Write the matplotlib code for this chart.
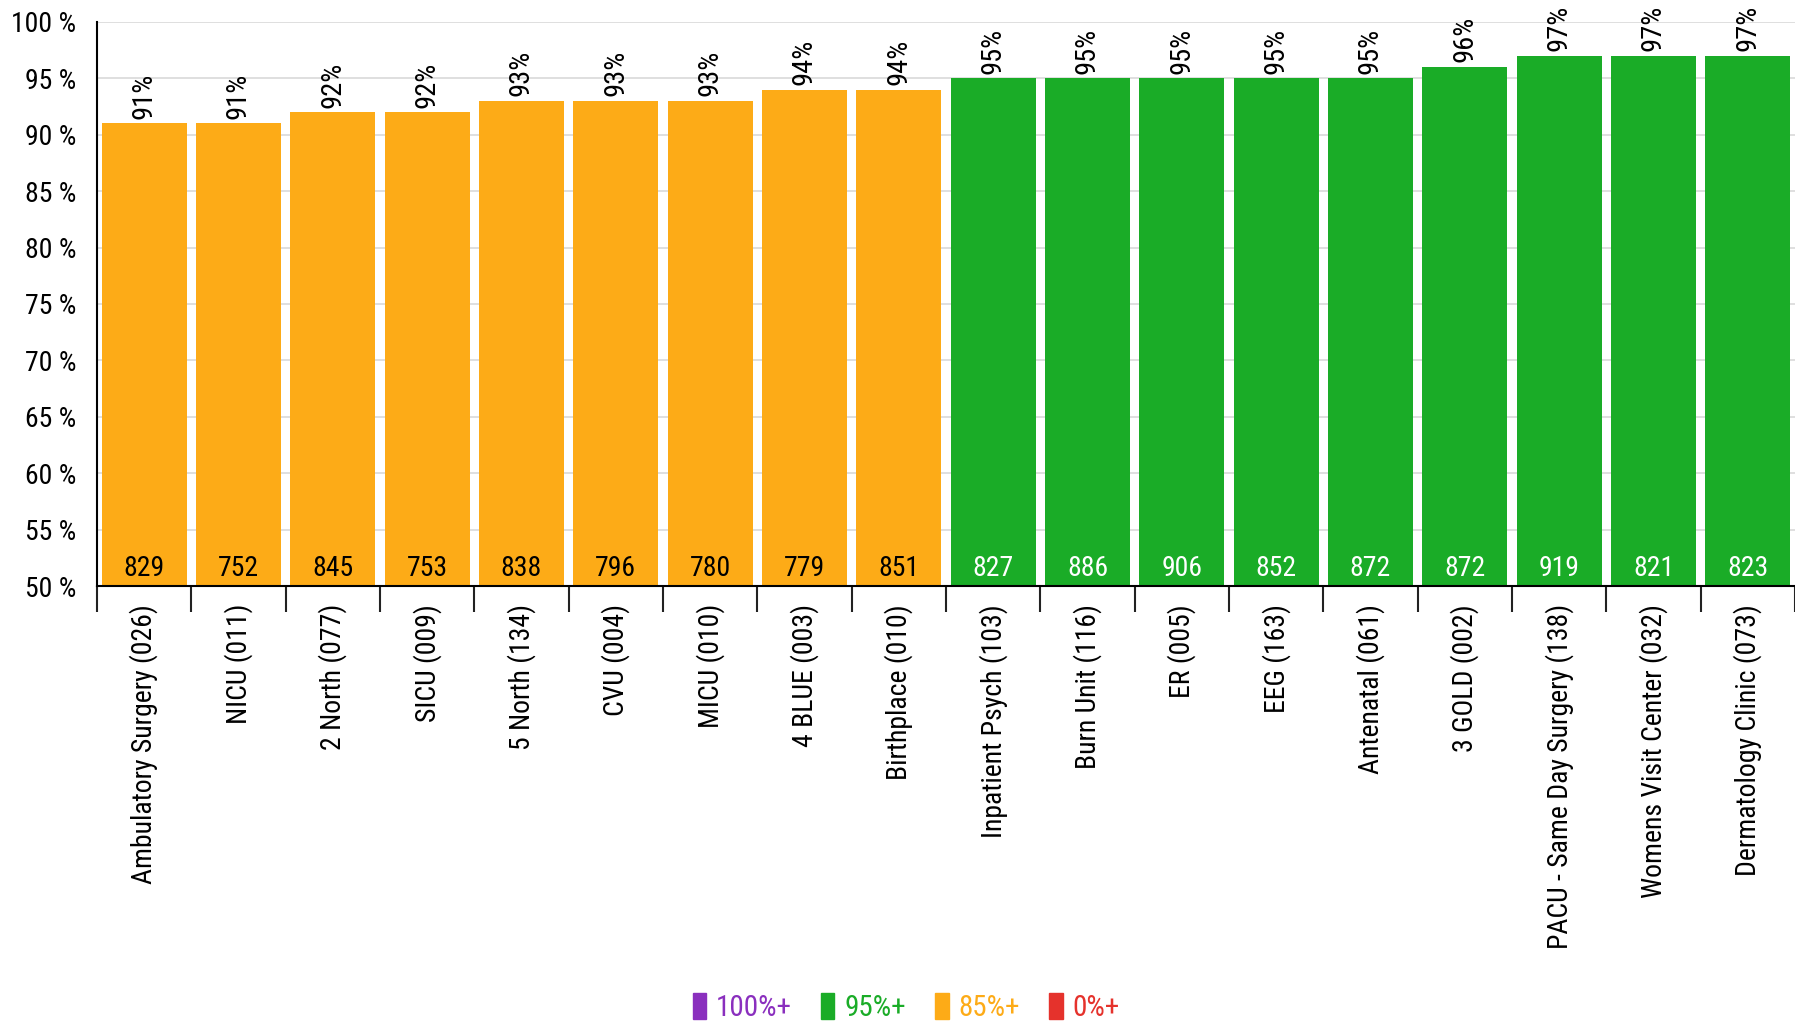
import matplotlib.pyplot as plt
from matplotlib.patches import Patch
import numpy as np

plt.rcParams['font.family'] = ['Roboto Condensed', 'Liberation Sans', 'DejaVu Sans']

units = ["Ambulatory Surgery (026)", "NICU (011)", "2 North (077)", "SICU (009)",
         "5 North (134)", "CVU (004)", "MICU (010)", "4 BLUE (003)", "Birthplace (010)",
         "Inpatient Psych (103)", "Burn Unit (116)", "ER (005)", "EEG (163)",
         "Antenatal (061)", "3 GOLD (002)", "PACU - Same Day Surgery (138)",
         "Womens Visit Center (032)", "Dermatology Clinic (073)"]
pct = [91, 91, 92, 92, 93, 93, 93, 94, 94, 95, 95, 95, 95, 95, 96, 97, 97, 97]
counts = [829, 752, 845, 753, 838, 796, 780, 779, 851, 827, 886, 906, 852, 872, 872, 919, 821, 823]

legend_labels = ["100%+", "95%+", "85%+", "0%+"]
PURPLE, GREEN, ORANGE, RED = "#8A2FBE", "#1AAC27", "#FDAB17", "#E5322C"
legend_colors = [PURPLE, GREEN, ORANGE, RED]


def bar_color(v):
    if v >= 100:
        return PURPLE
    if v >= 95:
        return GREEN
    if v >= 85:
        return ORANGE
    return RED


fig = plt.figure(figsize=(17.95, 10.22), dpi=100)
ax = fig.add_axes([0.054, 0.4266, 0.946, 0.552])

x = np.arange(len(units))
cols = [bar_color(v) for v in pct]
ax.bar(x, pct, width=0.9, color=cols, zorder=2)

ax.set_ylim(50, 100)
ax.set_xlim(-0.5, len(units) - 0.5)
ax.set_yticks(range(50, 101, 5))
ax.set_yticklabels([f"{v} %" for v in range(50, 101, 5)], fontsize=20)
ax.tick_params(axis='y', length=0, pad=15)
ax.grid(axis='y', color='#d9d9d9', linewidth=1.2, zorder=0)

ax.set_xticks(x)
ax.set_xticklabels(units, rotation=90, fontsize=20, va='top', ha='center')
ax.tick_params(axis='x', which='major', length=0, pad=13)
ax.set_xticks(np.arange(len(units) + 1) - 0.5, minor=True)
ax.tick_params(axis='x', which='minor', length=19, width=1.5, color='#222222')

for s in ['top', 'right']:
    ax.spines[s].set_visible(False)
ax.spines['left'].set_linewidth(1.5)
ax.spines['bottom'].set_linewidth(1.5)

for i, (v, n) in enumerate(zip(pct, counts)):
    ax.text(i, v + 0.4, f"{v}%", rotation=90, ha='center', va='bottom', fontsize=20.5)
    tc = 'white' if cols[i] == GREEN else 'black'
    ax.text(i, 50.4, str(n), ha='center', va='bottom', fontsize=20, color=tc)

handles = [Patch(facecolor=c, edgecolor=c) for c in legend_colors]
fig.legend(handles, legend_labels, loc='center', bbox_to_anchor=(0.505, 0.014),
           ncol=4, frameon=False, fontsize=21, labelcolor=legend_colors,
           handlelength=0.45, handleheight=1.0, handletextpad=0.35, columnspacing=1.0)

fig.savefig("out.png", dpi=100)
